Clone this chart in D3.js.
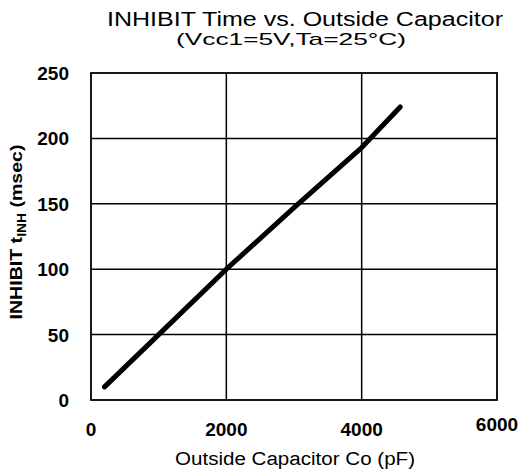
<!DOCTYPE html>
<html>
<head>
<meta charset="utf-8">
<script src="https://cdn.jsdelivr.net/npm/d3@7"></script>
<style>
  body { margin: 0; background: #fff; }
  text { font-family: "Liberation Sans", Arial, sans-serif; fill: #000; }
</style>
</head>
<body>
<svg id="chart"></svg>
<script>
// data
const capValues = [200, 1000, 2000, 3000, 4000, 4570];
const inhibitTimes = [10, 50, 100, 147, 193, 224];
const xTicks = [0, 2000, 4000, 6000];
const yTicks = [0, 50, 100, 150, 200, 250];

const width = 526;
const height = 476;
const margin = { top: 73, right: 29, bottom: 76, left: 91 };

const svg = d3.select("#chart")
    .attr("width", width)
    .attr("height", height);

const x = d3.scaleLinear().domain([0, 6000]).range([margin.left, width - margin.right]);
const y = d3.scaleLinear().domain([0, 250]).range([height - margin.bottom, margin.top]);

// grid lines
svg.append("g")
    .selectAll("line")
    .data(xTicks.slice(1, -1))
    .enter()
    .append("line")
    .attr("x1", d => x(d)).attr("x2", d => x(d))
    .attr("y1", y(0)).attr("y2", y(250))
    .attr("stroke", "#000").attr("stroke-width", 1.5);

svg.append("g")
    .selectAll("line")
    .data(yTicks.slice(1, -1))
    .enter()
    .append("line")
    .attr("x1", x(0)).attr("x2", x(6000))
    .attr("y1", d => y(d)).attr("y2", d => y(d))
    .attr("stroke", "#000").attr("stroke-width", 1.5);

// frame
svg.append("rect")
    .attr("x", x(0)).attr("y", y(250))
    .attr("width", x(6000) - x(0))
    .attr("height", y(0) - y(250))
    .attr("fill", "none")
    .attr("stroke", "#000")
    .attr("stroke-width", 1.8);

// tick labels
svg.append("g")
    .selectAll("text")
    .data(yTicks)
    .enter()
    .append("text")
    .attr("x", x(0) - 22)
    .attr("y", d => y(d) + 7)
    .attr("text-anchor", "end")
    .attr("font-size", 19)
    .attr("font-weight", "bold")
    .text(d => d);

svg.append("g")
    .selectAll("text")
    .data(xTicks)
    .enter()
    .append("text")
    .attr("x", d => x(d))
    .attr("y", d => d === 6000 ? 431 : 436)
    .attr("text-anchor", "middle")
    .attr("font-size", 19)
    .attr("font-weight", "bold")
    .text(d => d);

// the curve
const line = d3.line()
    .x((d, i) => x(capValues[i]))
    .y(d => y(d));

svg.append("path")
    .datum(inhibitTimes)
    .attr("d", line)
    .attr("fill", "none")
    .attr("stroke", "#000")
    .attr("stroke-width", 5)
    .attr("stroke-linecap", "round")
    .attr("stroke-linejoin", "round");

// titles
svg.append("text")
    .attr("x", 305).attr("y", 26)
    .attr("text-anchor", "middle")
    .attr("font-size", 20)
    .attr("textLength", 396)
    .attr("lengthAdjust", "spacingAndGlyphs")
    .text("INHIBIT Time vs. Outside Capacitor");

svg.append("text")
    .attr("x", 291).attr("y", 45)
    .attr("text-anchor", "middle")
    .attr("font-size", 17)
    .attr("textLength", 230)
    .attr("lengthAdjust", "spacingAndGlyphs")
    .text("(Vcc1=5V,Ta=25°C)");

svg.append("text")
    .attr("x", 295).attr("y", 465)
    .attr("text-anchor", "middle")
    .attr("font-size", 18)
    .attr("textLength", 240)
    .attr("lengthAdjust", "spacingAndGlyphs")
    .text("Outside Capacitor Co (pF)");

// y title
const yTitle = svg.append("text")
    .attr("transform", "translate(22,232) rotate(-90)")
    .attr("text-anchor", "middle")
    .attr("font-size", 17)
    .attr("font-weight", "bold")
    .attr("textLength", 175)
    .attr("lengthAdjust", "spacingAndGlyphs");
yTitle.append("tspan").text("INHIBIT t");
yTitle.append("tspan").attr("font-size", 12).attr("dy", 4).text("INH");
yTitle.append("tspan").attr("dy", -4).text(" (msec)");
</script>
</body>
</html>
